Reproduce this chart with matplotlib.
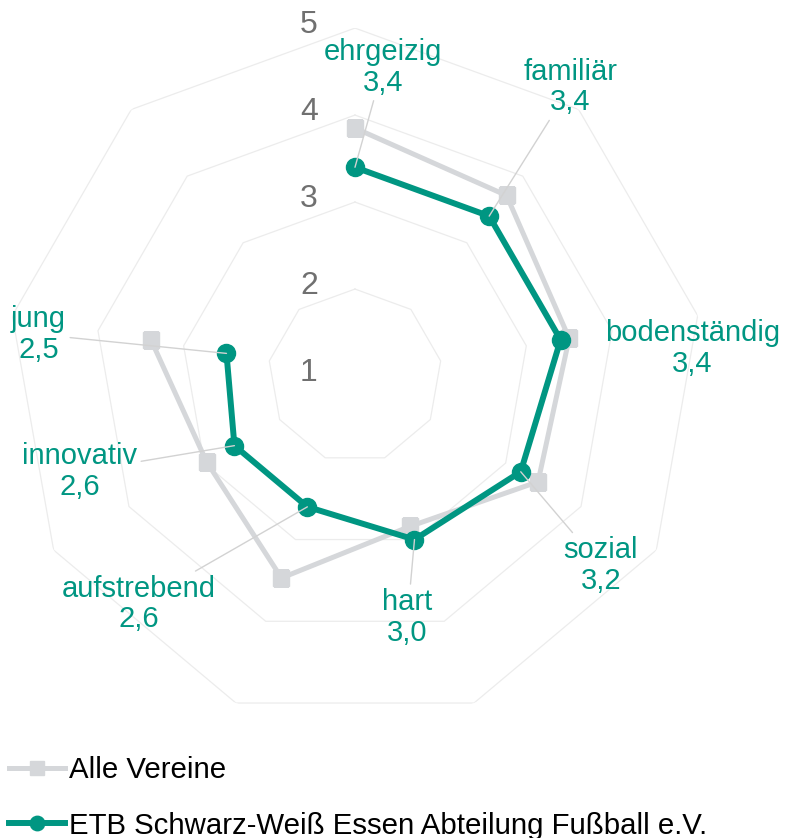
import numpy as np
import matplotlib
matplotlib.use("Agg")
import matplotlib.pyplot as plt

plt.rcParams['font.family'] = ['Liberation Sans', 'DejaVu Sans']

# Nine spokes; the last one carries no attribute
categories = ["ehrgeizig", "familiär", "bodenständig", "sozial", "hart",
              "aufstrebend", "innovativ", "jung", ""]
alle_vereine = [3.85, 3.71, 3.5, 3.43, 2.84, 3.47, 2.97, 3.38, np.nan]
etb = [3.4, 3.4, 3.4, 3.2, 3.0, 2.6, 2.6, 2.5, np.nan]
series_names = ["Alle Vereine", "ETB Schwarz-Weiß Essen Abteilung Fußball e.V."]
r_ticks = [1, 2, 3, 4, 5]

# label placement relative to each point (pixels) and whether a leader is drawn
label_offsets = [(28, 100), (81, 129), (132, -9), (80, -94), (-7, -78),
                 (-169, -97), (-155, -26), (-188, 19)]
leader = [True, True, False, True, True, True, True, True]

TEAL = "#009682"
GRAY = "#d5d7da"
GRID = "#ececec"

n = len(categories)
theta = np.arange(n) * 2 * np.pi / n

fig = plt.figure(figsize=(7.85, 8.38), dpi=100)
ax = fig.add_axes([0.0089, 0.136, 0.8866, 0.8305], projection="polar")
ax.set_theta_zero_location("N")
ax.set_theta_direction(-1)
ax.set_ylim(1, 5)
ax.grid(False)
ax.spines["polar"].set_visible(False)
ax.set_xticks([])
ax.set_yticks([])

# polygonal grid rings
closed = np.append(theta, theta[0])
for r in r_ticks[1:]:
    ax.plot(closed, [r] * len(closed), color=GRID, lw=0.9, zorder=0)

# radial tick labels
for r in r_ticks:
    ax.annotate(str(r), xy=(0, r), xytext=(-46, 3), textcoords="offset pixels",
                ha="center", va="center", fontsize=23, color="#707070")

ax.plot(theta, alle_vereine, color=GRAY, lw=3.6, marker="s", markersize=12,
        label=series_names[0], zorder=2, solid_joinstyle="miter")
ax.plot(theta, etb, color=TEAL, lw=4.3, marker="o", markersize=13,
        label=series_names[1], zorder=3)

for i, name in enumerate(categories):
    if not name:
        continue
    val = etb[i]
    txt = f"{name}\n{val:.1f}".replace(".", ",")
    arrow = dict(arrowstyle="-", color="#d2d2d2", lw=1.0, shrinkA=1, shrinkB=0) if leader[i] else None
    ax.annotate(txt, xy=(theta[i], val), xytext=label_offsets[i],
                textcoords="offset pixels", ha="center", va="center",
                multialignment="center", fontsize=21, color=TEAL,
                linespacing=1.12, arrowprops=arrow, zorder=4)

fig.legend(loc="upper left", bbox_to_anchor=(0.011, 0.098), frameon=False,
           fontsize=21.2, handlelength=1.9, handletextpad=0.15, labelspacing=0.94,
           borderpad=0, borderaxespad=0, markerscale=0.8)

fig.savefig("out.png", dpi=100)
